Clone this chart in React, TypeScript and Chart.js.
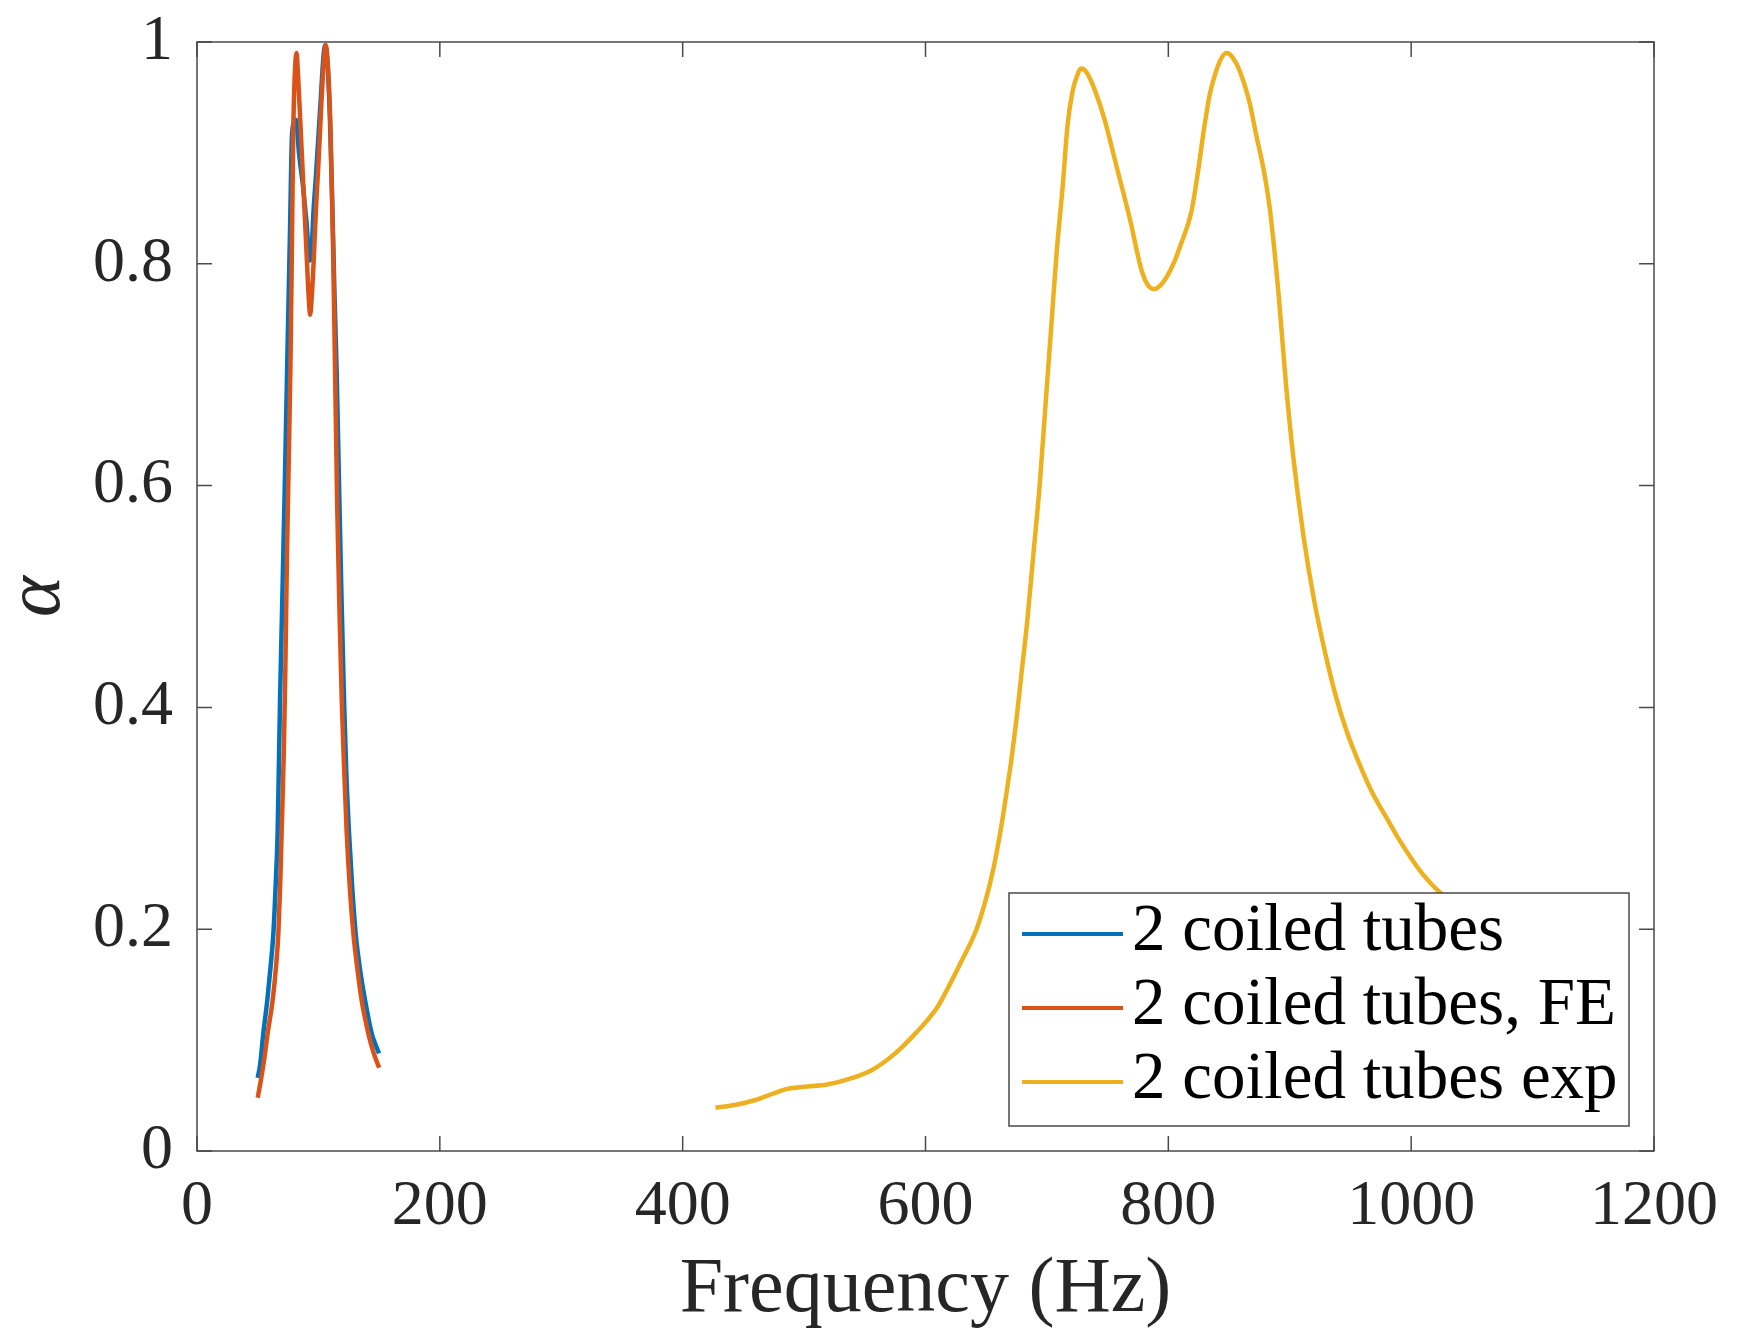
import React, { useEffect, useRef } from 'react';
import { Chart, registerables } from 'chart.js';

Chart.register(...registerables);

// ---- data ----
const xTicks = [0, 200, 400, 600, 800, 1000, 1200];
const yTicks = [0, 0.2, 0.4, 0.6, 0.8, 1];
const seriesNames = ['2 coiled tubes', '2 coiled tubes, FE', '2 coiled tubes exp'];
const seriesColors = ['#0072BD', '#D95319', '#EDB120'];
const xTitle = 'Frequency (Hz)';
const yTitle = 'α';

const tubesFreq = [50, 52, 54.6, 57.9, 60.5, 62.9, 64.8, 66.4, 68.4, 70.3, 72.3, 74.2, 76.6, 78.2, 80, 81.5, 84, 87.6, 90, 93, 94.5, 96, 98, 100, 102, 104, 105.5, 107.5, 109.5, 111.5, 113.3, 115, 117, 119, 121.1, 123, 125.2, 128, 130.7, 134.5, 138.4, 143.9, 147, 150];
const tubesAlpha = [0.066, 0.078, 0.106, 0.136, 0.165, 0.196, 0.24, 0.287, 0.407, 0.5, 0.6, 0.704, 0.83, 0.915, 0.928, 0.93, 0.9, 0.867, 0.84, 0.803, 0.815, 0.848, 0.88, 0.915, 0.95, 0.985, 0.997, 0.98, 0.93, 0.85, 0.77, 0.704, 0.6, 0.5, 0.407, 0.34, 0.287, 0.235, 0.196, 0.162, 0.136, 0.106, 0.096, 0.088];

const feFreq = [50, 52, 55, 58.2, 62.3, 65, 67, 68.5, 69.7, 71.5, 72.7, 74, 75.5, 76.9, 78, 79.3, 80.5, 82, 83, 85, 87.6, 90, 92, 93.2, 94.5, 96, 98, 100, 102, 104, 106, 108, 110, 112, 113.7, 115.5, 117.5, 119.2, 121, 123.3, 126, 128.8, 132, 135.6, 141.1, 145, 150];
const feAlpha = [0.048, 0.06, 0.08, 0.106, 0.136, 0.165, 0.196, 0.24, 0.287, 0.36, 0.43, 0.53, 0.62, 0.704, 0.8, 0.92, 0.97, 0.99, 0.975, 0.93, 0.87, 0.815, 0.77, 0.754, 0.77, 0.8, 0.85, 0.89, 0.935, 0.975, 0.997, 0.975, 0.92, 0.82, 0.704, 0.58, 0.48, 0.407, 0.35, 0.287, 0.235, 0.196, 0.165, 0.136, 0.106, 0.09, 0.075];

const expFreq = [427, 445, 460, 475, 486, 500, 519, 540, 556, 575, 590, 600, 610, 618, 630, 642, 650, 656, 662, 667, 671, 675, 679, 684, 689, 694, 699, 704, 708, 713, 717, 721, 725, 728, 733, 740, 747.5, 758, 768, 778, 783, 788.3, 793, 798.6, 805, 810.5, 819, 824, 829.3, 834, 838, 843, 848, 853, 858.4, 867, 872, 879, 884, 891, 897, 903, 911.5, 920, 929, 938, 947, 957, 968, 980, 990, 1000, 1010, 1021, 1050, 1080];
const expAlpha = [0.039, 0.042, 0.046, 0.052, 0.056, 0.058, 0.06, 0.066, 0.073, 0.088, 0.104, 0.116, 0.13, 0.146, 0.172, 0.2, 0.228, 0.255, 0.29, 0.325, 0.355, 0.39, 0.43, 0.48, 0.54, 0.6, 0.675, 0.75, 0.81, 0.87, 0.925, 0.955, 0.97, 0.976, 0.972, 0.955, 0.93, 0.885, 0.842, 0.794, 0.781, 0.777, 0.78, 0.788, 0.802, 0.818, 0.847, 0.88, 0.921, 0.952, 0.969, 0.984, 0.99, 0.986, 0.975, 0.945, 0.918, 0.882, 0.846, 0.77, 0.69, 0.625, 0.553, 0.497, 0.45, 0.41, 0.378, 0.35, 0.323, 0.3, 0.281, 0.264, 0.249, 0.236, 0.21, 0.19];

// ---- styles ----
const W = 1753;
const H = 1336;
const AXIS_COLOR = '#4a4a4a';
const TEXT_COLOR = '#262626';
const FONT = '"Liberation Serif", "Times New Roman", serif';
const LINE_W = 4.5;

const toPts = (xs: number[], ys: number[]) => xs.map((x, i) => ({ x, y: ys[i] }));

const framePlugin = {
  id: 'matlabFrame',
  afterDatasetsDraw(chart: any) {
    const { ctx, chartArea: a, scales } = chart;
    ctx.save();
    ctx.strokeStyle = AXIS_COLOR;
    ctx.lineWidth = 1.5;
    ctx.strokeRect(a.left, a.top, a.right - a.left, a.bottom - a.top);
    const TL = 15;
    ctx.beginPath();
    for (const v of xTicks) {
      const px = scales.x.getPixelForValue(v);
      ctx.moveTo(px, a.bottom);
      ctx.lineTo(px, a.bottom - TL);
      ctx.moveTo(px, a.top);
      ctx.lineTo(px, a.top + TL);
    }
    for (const v of yTicks) {
      const py = scales.y.getPixelForValue(v);
      ctx.moveTo(a.left, py);
      ctx.lineTo(a.left + TL, py);
      ctx.moveTo(a.right, py);
      ctx.lineTo(a.right - TL, py);
    }
    ctx.stroke();

    // legend (south-east, inside)
    const bw = 620;
    const bh = 233;
    const bx = a.right - 25 - bw;
    const by = a.bottom - 25 - bh;
    ctx.fillStyle = '#ffffff';
    ctx.fillRect(bx, by, bw, bh);
    ctx.strokeStyle = AXIS_COLOR;
    ctx.lineWidth = 1.5;
    ctx.strokeRect(bx, by, bw, bh);
    ctx.font = `67px ${FONT}`;
    ctx.textBaseline = 'alphabetic';
    ctx.textAlign = 'left';
    chart.data.datasets.forEach((ds: any, i: number) => {
      const ry = by + 41 + i * 74;
      ctx.strokeStyle = ds.borderColor;
      ctx.lineWidth = 4;
      ctx.beginPath();
      ctx.moveTo(bx + 13, ry);
      ctx.lineTo(bx + 114, ry);
      ctx.stroke();
      ctx.fillStyle = '#000000';
      ctx.fillText(ds.label, bx + 123, ry + 16);
    });
    ctx.restore();
  },
};

export default function App() {
  const ref = useRef<HTMLCanvasElement>(null);

  useEffect(() => {
    if (!ref.current) return;
    const chart = new Chart(ref.current, {
      type: 'line',
      data: {
        datasets: [
          {
            label: seriesNames[0],
            data: toPts(tubesFreq, tubesAlpha),
            borderColor: seriesColors[0],
            backgroundColor: seriesColors[0],
            borderWidth: LINE_W,
            pointRadius: 0,
            fill: false,
            cubicInterpolationMode: 'monotone',
            order: 3,
          },
          {
            label: seriesNames[1],
            data: toPts(feFreq, feAlpha),
            borderColor: seriesColors[1],
            backgroundColor: seriesColors[1],
            borderWidth: LINE_W,
            pointRadius: 0,
            fill: false,
            cubicInterpolationMode: 'monotone',
            order: 2,
          },
          {
            label: seriesNames[2],
            data: toPts(expFreq, expAlpha),
            borderColor: seriesColors[2],
            backgroundColor: seriesColors[2],
            borderWidth: LINE_W,
            pointRadius: 0,
            fill: false,
            cubicInterpolationMode: 'monotone',
            order: 1,
          },
        ],
      },
      options: {
        responsive: false,
        animation: false,
        devicePixelRatio: 1,
        layout: { padding: { left: 0, top: 42, right: 99, bottom: 0 } },
        plugins: {
          legend: { display: false },
          tooltip: { enabled: false },
        },
        scales: {
          x: {
            type: 'linear',
            min: 0,
            max: 1200,
            afterBuildTicks: (s: any) => {
              s.ticks = xTicks.map((v) => ({ value: v }));
            },
            afterFit: (s: any) => {
              s.height = H - 1151;
            },
            grid: { display: false, drawTicks: false },
            border: { display: false },
            ticks: {
              font: { family: FONT, size: 64, lineHeight: 1 },
              color: TEXT_COLOR,
              padding: 24,
              maxRotation: 0,
              autoSkip: false,
              callback: (v: any) => String(v),
            },
            title: {
              display: true,
              text: xTitle,
              color: TEXT_COLOR,
              font: { family: FONT, size: 78, lineHeight: 1 },
              padding: { top: 0, bottom: 6 },
            },
          },
          y: {
            type: 'linear',
            min: 0,
            max: 1,
            afterBuildTicks: (s: any) => {
              s.ticks = yTicks.map((v) => ({ value: v }));
            },
            afterFit: (s: any) => {
              s.width = 197;
            },
            grid: { display: false, drawTicks: false },
            border: { display: false },
            ticks: {
              font: { family: FONT, size: 64, lineHeight: 0.4 },
              color: TEXT_COLOR,
              padding: 24,
              autoSkip: false,
              callback: (v: any) => (v === 0 ? '0' : v === 1 ? '1' : Number(v).toFixed(1)),
            },
            title: {
              display: true,
              text: yTitle,
              color: TEXT_COLOR,
              font: { family: FONT, size: 78, style: 'italic', lineHeight: 1 },
              padding: { top: -1, bottom: 0 },
            },
          },
        },
      },
      plugins: [framePlugin],
    } as any);
    return () => chart.destroy();
  }, []);

  return (
    <div style={{ position: 'absolute', left: 0, top: 0, width: W, height: H, background: '#ffffff' }}>
      <canvas ref={ref} width={W} height={H} style={{ display: 'block', width: W, height: H }} />
    </div>
  );
}
